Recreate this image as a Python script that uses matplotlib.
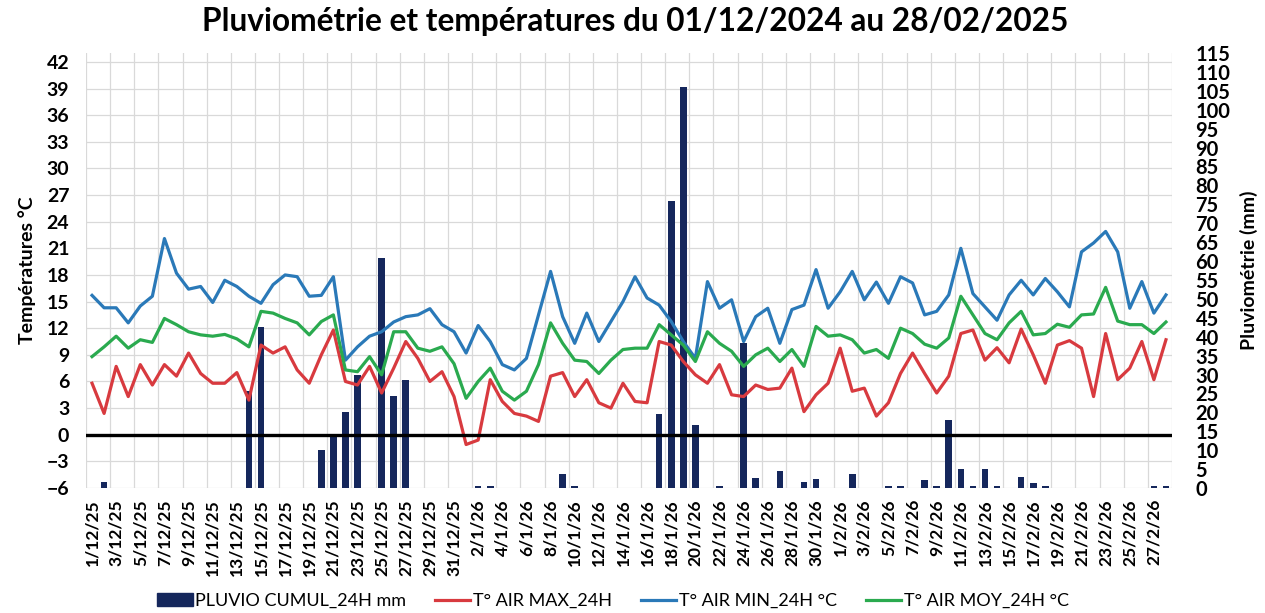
import matplotlib
matplotlib.use("Agg")
import matplotlib.pyplot as plt
import pandas as pd
from matplotlib.patches import Patch
from matplotlib.lines import Line2D
from matplotlib.transforms import blended_transform_factory

# ---------------- data ----------------
dates = pd.date_range("2025-12-01", "2026-02-28", freq="D")
date_labels = [f"{d.day}/{d.month}/{d.year % 100}" for d in dates]

t_max = [5.8, 2.4, 7.7, 4.3, 7.9, 5.6, 7.9, 6.6, 9.2, 6.9, 5.8, 5.8, 7.0, 3.9, 10.1,
         9.2, 9.9, 7.3, 5.8, 9.0, 11.8, 6.0, 5.6, 7.7, 4.7, 7.5, 10.5, 8.6, 6.0, 7.1,
         4.3, -1.1, -0.6, 6.2, 3.75, 2.4, 2.1, 1.5, 6.6, 7.0, 4.3, 6.2, 3.6, 3.0, 5.8,
         3.75, 3.6, 10.5, 10.1, 8.25, 6.75, 5.8, 7.9, 4.5, 4.3, 5.6, 5.1, 5.25, 7.5, 2.6,
         4.5, 5.8, 9.75, 4.9, 5.25, 2.1, 3.6, 6.9, 9.2, 6.9, 4.7, 6.6, 11.4, 11.8, 8.4,
         9.8, 8.1, 11.9, 9.0, 5.8, 10.1, 10.6, 9.75, 4.3, 11.4, 6.2, 7.5, 10.5, 6.2, 10.7]

t_min = [15.7, 14.3, 14.3, 12.6, 14.5, 15.6, 22.1, 18.2, 16.4, 16.7, 14.9, 17.4, 16.7, 15.6, 14.8,
         16.9, 18.0, 17.8, 15.6, 15.7, 17.8, 8.4, 9.9, 11.1, 11.6, 12.7, 13.3, 13.5, 14.2, 12.4,
         11.6, 9.2, 12.3, 10.5, 7.9, 7.3, 8.6, 13.5, 18.4, 13.3, 10.3, 13.7, 10.5, 12.75, 15.0,
         17.8, 15.4, 14.6, 12.75, 10.5, 8.6, 17.25, 14.25, 15.2, 10.5, 13.3, 14.25, 10.3, 14.1, 14.6,
         18.6, 14.25, 16.1, 18.4, 15.2, 17.2, 14.8, 17.8, 17.1, 13.5, 13.9, 15.75, 21.0, 15.9, 14.4,
         12.9, 15.75, 17.4, 15.75, 17.6, 16.1, 14.4, 20.6, 21.6, 22.9, 20.6, 14.25, 17.25, 13.7, 15.75]

t_moy = [8.8, 9.9, 11.1, 9.75, 10.7, 10.4, 13.1, 12.4, 11.6, 11.25, 11.1, 11.3, 10.8, 9.9, 13.9,
         13.7, 13.1, 12.6, 11.25, 12.75, 13.5, 7.3, 7.1, 8.8, 6.75, 11.6, 11.6, 9.75, 9.4, 9.9,
         8.0, 4.1, 6.0, 7.5, 4.9, 3.9, 4.9, 7.9, 12.6, 10.3, 8.4, 8.25, 6.9, 8.4, 9.6,
         9.75, 9.75, 12.4, 11.25, 10.1, 8.25, 11.6, 10.3, 9.4, 7.7, 9.0, 9.75, 8.25, 9.6, 7.7,
         12.2, 11.1, 11.25, 10.7, 9.2, 9.6, 8.6, 12.0, 11.4, 10.2, 9.75, 10.9, 15.6, 13.5, 11.4,
         10.7, 12.6, 13.9, 11.25, 11.4, 12.45, 12.1, 13.5, 13.6, 16.6, 12.8, 12.4, 12.4, 11.4, 12.7]

pluvio = [0, 1.5, 0, 0, 0, 0, 0, 0, 0, 0, 0, 0, 0, 25.7, 42.6,
          0, 0, 0, 0, 10.0, 13.7, 20.0, 30.0, 0, 60.8, 24.4, 28.5, 0, 0, 0,
          0, 0, 0.5, 0.5, 0, 0, 0, 0, 0, 3.8, 0.5, 0, 0, 0, 0,
          0, 0, 19.5, 76.0, 106.0, 16.6, 0, 0.5, 0, 38.4, 2.6, 0, 4.5, 0, 1.7,
          2.5, 0, 0, 3.7, 0, 0, 0.5, 0.5, 0, 2.0, 0.5, 18.0, 4.9, 0.5, 4.9,
          0.5, 0, 3.0, 1.4, 0.5, 0, 0, 0, 0, 0, 0, 0, 0, 0.5, 0.5]

temp_ticks = list(range(-6, 43, 3))
rain_ticks = list(range(0, 116, 5))

# ---------------- style ----------------
FONT = "Lato"
C_BAR = "#15275c"
C_MAX = "#d83a3f"
C_MIN = "#2a79b8"
C_MOY = "#2aaa4f"
C_GRID = "#d9d9d9"

W, H = 1265, 613
fig = plt.figure(figsize=(W / 100, H / 100), dpi=100)
fig.patch.set_facecolor("white")

L, R, B, T = 86, 1172, 488, 53
ax = fig.add_axes([L / W, 1 - B / H, (R - L) / W, (B - T) / H])
ax2 = ax.twinx()
ax.set_zorder(2)
ax2.set_zorder(1)
ax.patch.set_visible(False)

x = list(range(len(dates)))

# grid (drawn on the lower axes, under the bars)
tr = blended_transform_factory(ax2.transAxes, ax.transData)
for t in temp_ticks:
    ax2.add_line(Line2D([0, 1], [t, t], transform=tr, color=C_GRID, lw=0.9, zorder=0))
for k in range(0, len(dates) + 1, 2):
    ax2.axvline(k - 0.5, color=C_GRID, lw=0.9, zorder=0)

ax2.bar(x, pluvio, width=0.55, color=C_BAR, zorder=2)

LW = 2.3
ax.plot(x, t_max, color=C_MAX, lw=LW, zorder=3)
ax.plot(x, t_min, color=C_MIN, lw=LW, zorder=3)
ax.plot(x, t_moy, color=C_MOY, lw=LW, zorder=3)
ax.axhline(0, color="black", lw=2.4, zorder=4)

ax.set_xlim(-0.5, len(dates) - 0.5)
ax.set_ylim(-6, 43)
ax2.set_ylim(0, 115)

ax.set_yticks(temp_ticks)
ax2.set_yticks(rain_ticks)
ax.set_xticks(x[::2])
ax.set_xticklabels(date_labels[::2], rotation=90, fontsize=12.5, fontweight="bold",
                   family=FONT, va="top", ha="center")
for lab in ax.get_yticklabels():
    lab.set_fontsize(14); lab.set_fontweight("bold"); lab.set_family(FONT)
for lab in ax2.get_yticklabels():
    lab.set_fontsize(14.5); lab.set_fontweight("bold"); lab.set_family(FONT)

ax.tick_params(axis="both", length=0)
ax.tick_params(axis="y", pad=12)
ax.tick_params(axis="x", pad=8)
ax2.tick_params(axis="y", length=0, pad=17)

for a in (ax, ax2):
    for s in a.spines.values():
        s.set_visible(False)

ax.set_ylabel("Températures °C", fontsize=14, fontweight="bold", family=FONT, labelpad=8)
ax2.set_ylabel("Pluviométrie (mm)", fontsize=14, fontweight="bold", family=FONT, labelpad=7)

fig.text(635 / W, 1 - 22 / H, "Pluviométrie et températures du 01/12/2024 au 28/02/2025",
         ha="center", va="center", fontsize=22.8, fontweight="bold", family=FONT)

# legend
handles = [Patch(facecolor=C_BAR, edgecolor=C_BAR),
           Line2D([], [], color=C_MAX, lw=2.3),
           Line2D([], [], color=C_MIN, lw=2.3),
           Line2D([], [], color=C_MOY, lw=2.3)]
labels = ["PLUVIO CUMUL_24H mm", "T° AIR MAX_24H", "T° AIR MIN_24H °C", "T° AIR MOY_24H °C"]
fig.legend(handles, labels, ncol=4, frameon=False, prop={"family": FONT, "size": 13},
           handlelength=1.95, handletextpad=0.15, columnspacing=1.6, loc="center",
           bbox_to_anchor=(613 / W, 1 - 601 / H))

fig.savefig("out.png", dpi=100, facecolor="white")
